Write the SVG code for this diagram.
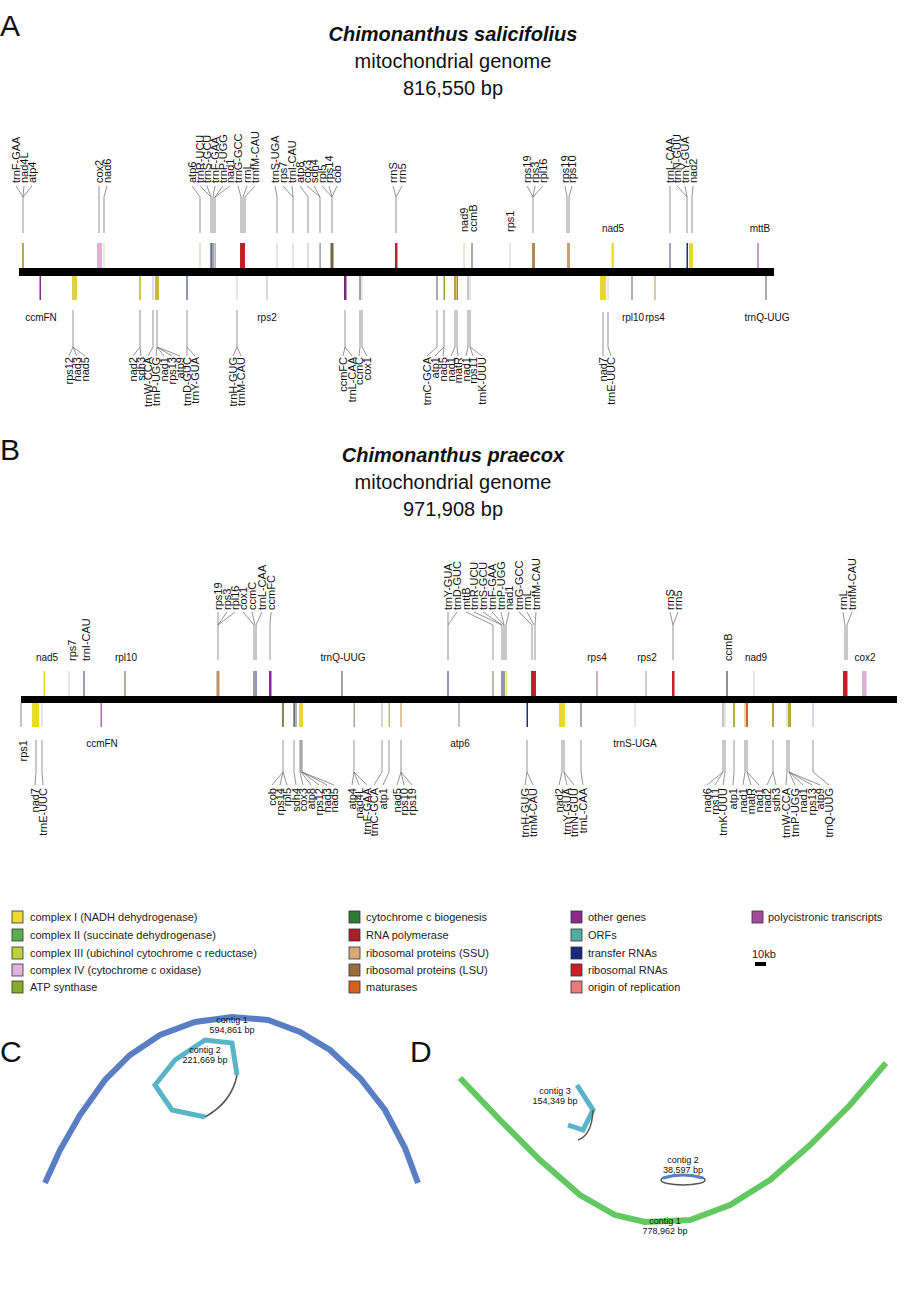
<svg xmlns="http://www.w3.org/2000/svg" width="907" height="1298" viewBox="0 0 907 1298">
<style>
text{font-family:"Liberation Sans",Arial,sans-serif;fill:#111}
.v{font-size:11px}
.vb{font-size:11px;text-anchor:end}
.h{font-size:10px;text-anchor:middle}
.ttl{font-size:20px;text-anchor:middle}
.pl{font-size:30px}
.lg{font-size:11px;fill:#222}
.ct{font-size:9px;text-anchor:middle}
.c{stroke:#666;stroke-width:0.7;fill:none}
.bar{fill:#000}
.lb{stroke:#333;stroke-width:0.8}
</style>
<rect width="907" height="1298" fill="#fff"/>

<!-- ================= PANEL A ================= -->
<g id="panelA-title">
<text class="pl" x="0" y="36">A</text>
<text class="ttl" x="453" y="41" font-weight="bold" font-style="italic">Chimonanthus salicifolius</text>
<text class="ttl" x="453" y="68">mitochondrial genome</text>
<text class="ttl" x="453" y="95">816,550 bp</text>
</g>
<rect id="barA" class="bar" x="19" y="268" width="755" height="8"/>

<g id="connectorsA" class="c">
<path d="M16,186L23,197M24,186L23,197M32,186L23,197M23,197V233"/>
<path d="M99,186L99,197M107,186L104,197M99,197V233M104,197V233"/>
<path d="M192,186L200,197M200,186L211,197M207,186L211,197M215,186L213,197M223,186L215,197M230,186L215,197M200,197V233M211,197V233M213,197V233M215,197V233"/>
<path d="M238,186L241,197M247,186L243,197M255,186L245,197M241,197V233M243,197V233M245,197V233"/>
<path d="M275,186L277,197M277,197V233M283,186L293,197M292,186L293,197M293,197V233"/>
<path d="M300,186L308,197M307,186L320,197M314,186L320,197M322,186L332,197M329,186L332,197M337,186L332,197M308,197V233M320,197V233M332,197V233"/>
<path d="M393,186L396,197M402,186L396,197M396,197V233"/>
<path d="M527,186L533,197M535,186L533,197M543,186L533,197M533,197V233"/>
<path d="M565,186L567,197M572,186L569,197M567,197V233M569,197V233"/>
<path d="M670,186L670,197M677,186L687,197M685,186L687,197M693,186L692,197M670,197V233M687,197V233M692,197V233"/>
<path d="M73,310V347L69,356M73,347L77,356M73,347L85,356"/>
<path d="M140,310V347L133,356M140,347L141,356M153,310V347L148,356M157,310V347L156,356M157,347L164,356M157,347L172,356M157,347L180,356"/>
<path d="M187,310V347L187,356M187,347L195,356"/>
<path d="M237,310V347L233,356M237,347L241,356"/>
<path d="M345,310V347L343,356M345,347L352,356M360,310V347L359,356M362,310V347L367,356"/>
<path d="M437,310V347L427,356M444,310V347L435,356M444,347L443,356M455,310V347L451,356M457,310V347L458,356M468,310V347L466,356M470,310V347L473,356M470,347L482,356"/>
<path d="M603,312V347L603,356M608,312V347L611,356"/>
</g>

<g id="genesA-top">
<rect x="22" y="243" width="2" height="25" fill="#b8a848"/>
<rect x="97" y="243" width="5" height="25" fill="#dfb0d5"/>
<rect x="103.5" y="243" width="1" height="25" fill="#ddd6a8"/>
<rect x="199.5" y="243" width="1" height="25" fill="#c8c8b0"/>
<rect x="210.5" y="243" width="1.2" height="25" fill="#1f2d7a"/>
<rect x="212.5" y="243" width="1" height="25" fill="#444"/>
<rect x="214.5" y="243" width="1.2" height="25" fill="#999"/>
<rect x="240" y="243" width="5" height="25" fill="#c0202a"/>
<rect x="276.5" y="243" width="1" height="25" fill="#ccc"/>
<rect x="292.5" y="243" width="1" height="25" fill="#ccc"/>
<rect x="307.5" y="243" width="1" height="25" fill="#bbb"/>
<rect x="319.5" y="243" width="1.2" height="25" fill="#888"/>
<rect x="330.5" y="243" width="3" height="25" fill="#6e6a40"/>
<rect x="395" y="243" width="2.5" height="25" fill="#c0202a"/>
<rect x="463.5" y="243" width="1" height="25" fill="#d8d0b0"/>
<rect x="471.5" y="243" width="1" height="25" fill="#555"/>
<rect x="509.5" y="243" width="1" height="25" fill="#ccc"/>
<rect x="532" y="243" width="3" height="25" fill="#b08850"/>
<rect x="567" y="243" width="3" height="25" fill="#c8a070"/>
<rect x="611.5" y="243" width="2.5" height="25" fill="#e8dc40"/>
<rect x="669.5" y="243" width="1" height="25" fill="#3a4a8a"/>
<rect x="686.5" y="243" width="1.5" height="25" fill="#1f2d7a"/>
<rect x="689" y="243" width="4" height="25" fill="#e8d830"/>
<rect x="757.5" y="243" width="1" height="25" fill="#8a3a8a"/>
</g>
<g id="genesA-bottom">
<rect x="39.5" y="276" width="1.5" height="24" fill="#8a2a88"/>
<rect x="72" y="276" width="5" height="24" fill="#e0d050"/>
<rect x="139" y="276" width="2" height="24" fill="#c8cc50"/>
<rect x="152.5" y="276" width="1" height="24" fill="#a8c0d8"/>
<rect x="155" y="276" width="4" height="24" fill="#c8b840"/>
<rect x="186.5" y="276" width="1" height="24" fill="#1f2d7a"/>
<rect x="236.5" y="276" width="1" height="24" fill="#c8d0e0"/>
<rect x="266.5" y="276" width="1" height="24" fill="#bbb"/>
<rect x="344" y="276" width="2.5" height="24" fill="#7a2a70"/>
<rect x="359.5" y="276" width="1" height="24" fill="#444"/>
<rect x="361.5" y="276" width="1" height="24" fill="#e0c8d8"/>
<rect x="436.5" y="276" width="1" height="24" fill="#556"/>
<rect x="443.5" y="276" width="1.5" height="24" fill="#a0a040"/>
<rect x="454" y="276" width="2" height="24" fill="#c0a040"/>
<rect x="456.5" y="276" width="1.5" height="24" fill="#d07030"/>
<rect x="467.5" y="276" width="1" height="24" fill="#8890b0"/>
<rect x="469.5" y="276" width="1" height="24" fill="#ccc"/>
<rect x="600" y="276" width="6" height="24" fill="#e8d830"/>
<rect x="607.5" y="276" width="1" height="24" fill="#ccc"/>
<rect x="631.5" y="276" width="1" height="24" fill="#666"/>
<rect x="654.5" y="276" width="1" height="24" fill="#c09060"/>
<rect x="765.5" y="276" width="1" height="24" fill="#556"/>
</g>

<g id="labelsA-top">
<text class="v" transform="translate(20,183) rotate(-90)">trnF-GAA</text>
<text class="v" transform="translate(28,183) rotate(-90)">nad4L</text>
<text class="v" transform="translate(36,183) rotate(-90)">atp4</text>
<text class="v" transform="translate(103,183) rotate(-90)">cox2</text>
<text class="v" transform="translate(111,183) rotate(-90)">nad6</text>
<text class="v" transform="translate(196,183) rotate(-90)">atp6</text>
<text class="v" transform="translate(204,183) rotate(-90)">trnR-UCU</text>
<text class="v" transform="translate(211,183) rotate(-90)">trnS-GCU</text>
<text class="v" transform="translate(219,183) rotate(-90)">trnF-GAA</text>
<text class="v" transform="translate(227,183) rotate(-90)">trnP-UGG</text>
<text class="v" transform="translate(234,183) rotate(-90)">nad1</text>
<text class="v" transform="translate(242,183) rotate(-90)">trnG-GCC</text>
<text class="v" transform="translate(251,183) rotate(-90)">rrnL</text>
<text class="v" transform="translate(259,183) rotate(-90)">trnfM-CAU</text>
<text class="v" transform="translate(279,183) rotate(-90)">trnS-UGA</text>
<text class="v" transform="translate(287,183) rotate(-90)">rps7</text>
<text class="v" transform="translate(296,183) rotate(-90)">trnI-CAU</text>
<text class="v" transform="translate(304,183) rotate(-90)">atp8</text>
<text class="v" transform="translate(311,183) rotate(-90)">cox3</text>
<text class="v" transform="translate(318,183) rotate(-90)">sdh4</text>
<text class="v" transform="translate(326,183) rotate(-90)">rpl5</text>
<text class="v" transform="translate(333,183) rotate(-90)">rps14</text>
<text class="v" transform="translate(341,183) rotate(-90)">cob</text>
<text class="v" transform="translate(397,183) rotate(-90)">rrnS</text>
<text class="v" transform="translate(406,183) rotate(-90)">rrn5</text>
<text class="v" transform="translate(468,232) rotate(-90)">nad9</text>
<text class="v" transform="translate(477,232) rotate(-90)">ccmB</text>
<text class="v" transform="translate(514,232) rotate(-90)">rps1</text>
<text class="v" transform="translate(531,183) rotate(-90)">rps19</text>
<text class="v" transform="translate(539,183) rotate(-90)">rps3</text>
<text class="v" transform="translate(547,183) rotate(-90)">rpl16</text>
<text class="v" transform="translate(569,183) rotate(-90)">rps19</text>
<text class="v" transform="translate(576,183) rotate(-90)">rps10</text>
<text class="h" x="613" y="232">nad5</text>
<text class="v" transform="translate(674,183) rotate(-90)">trnL-CAA</text>
<text class="v" transform="translate(681,183) rotate(-90)">trnN-GUU</text>
<text class="v" transform="translate(689,183) rotate(-90)">trnY-GUA</text>
<text class="v" transform="translate(697,183) rotate(-90)">nad2</text>
<text class="h" x="760" y="232">mttB</text>
</g>
<g id="labelsA-bottom">
<text class="h" x="41" y="321">ccmFN</text>
<text class="vb" transform="translate(73,357) rotate(-90)">rps12</text>
<text class="vb" transform="translate(81,357) rotate(-90)">nad3</text>
<text class="vb" transform="translate(89,357) rotate(-90)">nad5</text>
<text class="vb" transform="translate(137,357) rotate(-90)">nad2</text>
<text class="vb" transform="translate(145,357) rotate(-90)">sdh3</text>
<text class="vb" transform="translate(152,357) rotate(-90)">trnW-CCA</text>
<text class="vb" transform="translate(160,357) rotate(-90)">trnP-UGG</text>
<text class="vb" transform="translate(168,357) rotate(-90)">nad1</text>
<text class="vb" transform="translate(176,357) rotate(-90)">rps13</text>
<text class="vb" transform="translate(184,357) rotate(-90)">atp9</text>
<text class="vb" transform="translate(191,357) rotate(-90)">trnD-GUC</text>
<text class="vb" transform="translate(199,357) rotate(-90)">trnY-GUA</text>
<text class="vb" transform="translate(237,357) rotate(-90)">trnH-GUG</text>
<text class="vb" transform="translate(245,357) rotate(-90)">trnM-CAU</text>
<text class="h" x="267" y="321">rps2</text>
<text class="vb" transform="translate(347,357) rotate(-90)">ccmFC</text>
<text class="vb" transform="translate(356,357) rotate(-90)">trnL-CAA</text>
<text class="vb" transform="translate(363,357) rotate(-90)">ccmC</text>
<text class="vb" transform="translate(371,357) rotate(-90)">cox1</text>
<text class="vb" transform="translate(431,357) rotate(-90)">trnC-GCA</text>
<text class="vb" transform="translate(439,357) rotate(-90)">atp1</text>
<text class="vb" transform="translate(447,357) rotate(-90)">nad5</text>
<text class="vb" transform="translate(455,357) rotate(-90)">nad1</text>
<text class="vb" transform="translate(462,357) rotate(-90)">matR</text>
<text class="vb" transform="translate(470,357) rotate(-90)">nad1</text>
<text class="vb" transform="translate(477,357) rotate(-90)">rps11</text>
<text class="vb" transform="translate(486,357) rotate(-90)">trnK-UUU</text>
<text class="vb" transform="translate(607,357) rotate(-90)">nad7</text>
<text class="vb" transform="translate(615,357) rotate(-90)">trnE-UUC</text>
<text class="h" x="633" y="321">rpl10</text>
<text class="h" x="655" y="321">rps4</text>
<text class="h" x="767" y="321">trnQ-UUG</text>
</g>

<!-- ================= PANEL B ================= -->
<g id="panelB-title">
<text class="pl" x="0" y="460">B</text>
<text class="ttl" x="453" y="462" font-weight="bold" font-style="italic">Chimonanthus praecox</text>
<text class="ttl" x="453" y="489">mitochondrial genome</text>
<text class="ttl" x="453" y="516">971,908 bp</text>
</g>
<rect id="barB" class="bar" x="21" y="696" width="876" height="7"/>

<g id="connectorsB" class="c">
<path d="M218,612L218,625M227,612L218,625M235,612L218,625M218,625V660"/>
<path d="M243,612L254,625M252,612L255,625M262,612L256,625M271,612L270,625M254,625V660M256,625V660M270,625V660"/>
<path d="M448,612L448,625M457,612L448,625M448,625V660"/>
<path d="M466,612L493,625M474,612L502,625M483,612L502,625M492,612L504,625M501,612L504,625M509,612L506,625M493,625V660M502,625V660M504,625V660M506,625V660"/>
<path d="M519,612L532,625M527,612L534,625M536,612L535,625M532,625V660M535,625V660"/>
<path d="M670,612L673,625M678,612L673,625M673,625V660"/>
<path d="M843,612L845,625M852,612L847,625M845,625V660M847,625V660"/>
<path d="M36,740V772L35,785M42,740V772L43,785"/>
<path d="M283,740V772L272,785M283,772L280,785M283,772L287,785"/>
<path d="M294,740V772L296,785M300,740V772L303,785M301,740V772L311,785M302,740V772L319,785M302,772L327,785M302,772L334,785"/>
<path d="M354,740V772L352,785M354,772L359,785M354,772L367,785"/>
<path d="M382,740V772L374,785M389,740V772L383,785"/>
<path d="M401,740V772L397,785M401,772L404,785M401,772L412,785"/>
<path d="M527,740V772L525,785M527,772L533,785"/>
<path d="M562,740V772L559,785M564,740V772L567,785M564,772L574,785M581,740V772L583,785"/>
<path d="M723,740V772L707,785M723,772L715,785M725,740V772L723,785M734,740V772L733,785M745,740V772L743,785M747,740V772L751,785M747,772L759,785M773,740V772L767,785M773,772L776,785M787,740V772L786,785M789,740V772L795,785M789,772L803,785M789,772L812,785M789,772L820,785M813,740V772L829,785"/>
</g>

<g id="genesB-top">
<rect x="43.5" y="671" width="1.5" height="25" fill="#e8d830"/>
<rect x="68.5" y="671" width="1" height="25" fill="#ccc"/>
<rect x="83.5" y="671" width="1" height="25" fill="#2a3a80"/>
<rect x="124.5" y="671" width="1" height="25" fill="#6a5a40"/>
<rect x="216.5" y="671" width="3" height="25" fill="#c09060"/>
<rect x="253.5" y="671" width="1" height="25" fill="#444"/>
<rect x="255.5" y="671" width="1" height="25" fill="#1f2d7a"/>
<rect x="269" y="671" width="2.5" height="25" fill="#8a2a88"/>
<rect x="341.5" y="671" width="1" height="25" fill="#446"/>
<rect x="447.5" y="671" width="1" height="25" fill="#1f2d7a"/>
<rect x="492.5" y="671" width="1" height="25" fill="#776"/>
<rect x="501.5" y="671" width="1" height="25" fill="#1f2d7a"/>
<rect x="503.5" y="671" width="1" height="25" fill="#333"/>
<rect x="505.5" y="671" width="1.5" height="25" fill="#e8e090"/>
<rect x="531" y="671" width="5" height="25" fill="#c0202a"/>
<rect x="596.5" y="671" width="1" height="25" fill="#8a7a6a"/>
<rect x="645.5" y="671" width="1" height="25" fill="#999"/>
<rect x="672" y="671" width="2.5" height="25" fill="#c0202a"/>
<rect x="726.5" y="671" width="1" height="25" fill="#222"/>
<rect x="753.5" y="671" width="1" height="25" fill="#ccc"/>
<rect x="843" y="671" width="4.5" height="25" fill="#c0202a"/>
<rect x="862" y="671" width="4.5" height="25" fill="#dfb0d5"/>
</g>
<g id="genesB-bottom">
<rect x="20.5" y="703" width="1" height="24" fill="#888"/>
<rect x="32" y="703" width="7" height="24" fill="#e8d830"/>
<rect x="41.5" y="703" width="1" height="24" fill="#ccc"/>
<rect x="100.5" y="703" width="1.5" height="24" fill="#b070b0"/>
<rect x="282" y="703" width="2" height="24" fill="#8a8a50"/>
<rect x="293.5" y="703" width="1.2" height="24" fill="#333"/>
<rect x="295.5" y="703" width="1" height="24" fill="#666"/>
<rect x="299" y="703" width="4" height="24" fill="#e8d830"/>
<rect x="353.5" y="703" width="1.5" height="24" fill="#aaa890"/>
<rect x="381.5" y="703" width="1" height="24" fill="#aaa"/>
<rect x="388.5" y="703" width="1.5" height="24" fill="#b8c840"/>
<rect x="400" y="703" width="2" height="24" fill="#e0c8a0"/>
<rect x="458.5" y="703" width="1" height="24" fill="#888"/>
<rect x="526.5" y="703" width="1.5" height="24" fill="#1f2d7a"/>
<rect x="559" y="703" width="6" height="24" fill="#e8d830"/>
<rect x="580.5" y="703" width="1" height="24" fill="#556"/>
<rect x="634.5" y="703" width="1" height="24" fill="#ccd"/>
<rect x="722.5" y="703" width="1" height="24" fill="#888"/>
<rect x="724.5" y="703" width="1" height="24" fill="#ccc"/>
<rect x="733" y="703" width="2" height="24" fill="#b8b040"/>
<rect x="744.5" y="703" width="1" height="24" fill="#c8b040"/>
<rect x="746" y="703" width="2" height="24" fill="#c06830"/>
<rect x="772" y="703" width="2" height="24" fill="#b8a830"/>
<rect x="786.5" y="703" width="1" height="24" fill="#ccc"/>
<rect x="788" y="703" width="3" height="24" fill="#b8a840"/>
<rect x="812.5" y="703" width="1" height="24" fill="#a8b8d8"/>
</g>

<g id="labelsB-top">
<text class="h" x="47" y="661">nad5</text>
<text class="v" transform="translate(76,661) rotate(-90)">rps7</text>
<text class="v" transform="translate(90,661) rotate(-90)">trnI-CAU</text>
<text class="h" x="126" y="661">rpl10</text>
<text class="v" transform="translate(222,610) rotate(-90)">rps19</text>
<text class="v" transform="translate(231,610) rotate(-90)">rps3</text>
<text class="v" transform="translate(239,610) rotate(-90)">rpl16</text>
<text class="v" transform="translate(247,610) rotate(-90)">cox1</text>
<text class="v" transform="translate(256,610) rotate(-90)">ccmC</text>
<text class="v" transform="translate(266,610) rotate(-90)">trnL-CAA</text>
<text class="v" transform="translate(275,610) rotate(-90)">ccmFC</text>
<text class="h" x="343" y="661">trnQ-UUG</text>
<text class="v" transform="translate(452,610) rotate(-90)">trnY-GUA</text>
<text class="v" transform="translate(461,610) rotate(-90)">trnD-GUC</text>
<text class="v" transform="translate(470,610) rotate(-90)">mttB</text>
<text class="v" transform="translate(478,610) rotate(-90)">trnR-UCU</text>
<text class="v" transform="translate(487,610) rotate(-90)">trnS-GCU</text>
<text class="v" transform="translate(496,610) rotate(-90)">trnF-GAA</text>
<text class="v" transform="translate(505,610) rotate(-90)">trnP-UGG</text>
<text class="v" transform="translate(513,610) rotate(-90)">nad1</text>
<text class="v" transform="translate(523,610) rotate(-90)">trnG-GCC</text>
<text class="v" transform="translate(531,610) rotate(-90)">rrnL</text>
<text class="v" transform="translate(540,610) rotate(-90)">trnfM-CAU</text>
<text class="h" x="597" y="661">rps4</text>
<text class="h" x="647" y="661">rps2</text>
<text class="v" transform="translate(674,610) rotate(-90)">rrnS</text>
<text class="v" transform="translate(682,610) rotate(-90)">rrn5</text>
<text class="v" transform="translate(732,661) rotate(-90)">ccmB</text>
<text class="h" x="756" y="661">nad9</text>
<text class="v" transform="translate(847,610) rotate(-90)">rrnL</text>
<text class="v" transform="translate(856,610) rotate(-90)">trnfM-CAU</text>
<text class="h" x="865" y="661">cox2</text>
</g>
<g id="labelsB-bottom">
<text class="vb" transform="translate(27,740) rotate(-90)">rps1</text>
<text class="vb" transform="translate(39,788) rotate(-90)">nad7</text>
<text class="vb" transform="translate(47,788) rotate(-90)">trnE-UUC</text>
<text class="h" x="102" y="747">ccmFN</text>
<text class="vb" transform="translate(276,788) rotate(-90)">cob</text>
<text class="vb" transform="translate(284,788) rotate(-90)">rps14</text>
<text class="vb" transform="translate(291,788) rotate(-90)">rpl5</text>
<text class="vb" transform="translate(300,788) rotate(-90)">sdh4</text>
<text class="vb" transform="translate(307,788) rotate(-90)">cox3</text>
<text class="vb" transform="translate(315,788) rotate(-90)">atp8</text>
<text class="vb" transform="translate(323,788) rotate(-90)">rps12</text>
<text class="vb" transform="translate(331,788) rotate(-90)">nad3</text>
<text class="vb" transform="translate(338,788) rotate(-90)">nad5</text>
<text class="vb" transform="translate(356,788) rotate(-90)">atp4</text>
<text class="vb" transform="translate(363,788) rotate(-90)">nad4L</text>
<text class="vb" transform="translate(371,788) rotate(-90)">trnF-GAA</text>
<text class="vb" transform="translate(378,788) rotate(-90)">trnC-GCA</text>
<text class="vb" transform="translate(387,788) rotate(-90)">atp1</text>
<text class="vb" transform="translate(401,788) rotate(-90)">nad5</text>
<text class="vb" transform="translate(408,788) rotate(-90)">rps10</text>
<text class="vb" transform="translate(416,788) rotate(-90)">rps19</text>
<text class="h" x="460" y="747">atp6</text>
<text class="vb" transform="translate(529,788) rotate(-90)">trnH-GUG</text>
<text class="vb" transform="translate(537,788) rotate(-90)">trnM-CAU</text>
<text class="vb" transform="translate(563,788) rotate(-90)">nad2</text>
<text class="vb" transform="translate(571,788) rotate(-90)">trnY-GUA</text>
<text class="vb" transform="translate(578,788) rotate(-90)">trnN-GUU</text>
<text class="vb" transform="translate(587,788) rotate(-90)">trnL-CAA</text>
<text class="h" x="635" y="747">trnS-UGA</text>
<text class="vb" transform="translate(711,788) rotate(-90)">nad6</text>
<text class="vb" transform="translate(719,788) rotate(-90)">rps11</text>
<text class="vb" transform="translate(727,788) rotate(-90)">trnK-UUU</text>
<text class="vb" transform="translate(737,788) rotate(-90)">atp1</text>
<text class="vb" transform="translate(747,788) rotate(-90)">nad1</text>
<text class="vb" transform="translate(755,788) rotate(-90)">matR</text>
<text class="vb" transform="translate(763,788) rotate(-90)">nad1</text>
<text class="vb" transform="translate(771,788) rotate(-90)">nad2</text>
<text class="vb" transform="translate(780,788) rotate(-90)">sdh3</text>
<text class="vb" transform="translate(790,788) rotate(-90)">trnW-CCA</text>
<text class="vb" transform="translate(799,788) rotate(-90)">trnP-UGG</text>
<text class="vb" transform="translate(807,788) rotate(-90)">nad1</text>
<text class="vb" transform="translate(816,788) rotate(-90)">rps13</text>
<text class="vb" transform="translate(824,788) rotate(-90)">atp9</text>
<text class="vb" transform="translate(833,788) rotate(-90)">trnQ-UUG</text>
</g>

<!-- ================= LEGEND ================= -->
<g id="legend">
<rect class="lb" x="12" y="911" width="11" height="12" fill="#ecd932"/>
<text class="lg" x="30" y="921">complex I (NADH dehydrogenase)</text>
<rect class="lb" x="12" y="929" width="11" height="12" fill="#58b04c"/>
<text class="lg" x="30" y="939">complex II (succinate dehydrogenase)</text>
<rect class="lb" x="12" y="947" width="11" height="12" fill="#bcd040"/>
<text class="lg" x="30" y="957">complex III (ubichinol cytochrome c reductase)</text>
<rect class="lb" x="12" y="964" width="11" height="12" fill="#e0b4d8"/>
<text class="lg" x="30" y="974">complex IV (cytochrome c oxidase)</text>
<rect class="lb" x="12" y="981" width="11" height="12" fill="#8aaa2c"/>
<text class="lg" x="30" y="991">ATP synthase</text>
<rect class="lb" x="349" y="911" width="11" height="12" fill="#2e7a36"/>
<text class="lg" x="366" y="921">cytochrome c biogenesis</text>
<rect class="lb" x="349" y="929" width="11" height="12" fill="#a82026"/>
<text class="lg" x="366" y="939">RNA polymerase</text>
<rect class="lb" x="349" y="947" width="11" height="12" fill="#d8a878"/>
<text class="lg" x="366" y="957">ribosomal proteins (SSU)</text>
<rect class="lb" x="349" y="964" width="11" height="12" fill="#9a6e3c"/>
<text class="lg" x="366" y="974">ribosomal proteins (LSU)</text>
<rect class="lb" x="349" y="981" width="11" height="12" fill="#d8601e"/>
<text class="lg" x="366" y="991">maturases</text>
<rect class="lb" x="571" y="911" width="11" height="12" fill="#8c2a8a"/>
<text class="lg" x="588" y="921">other genes</text>
<rect class="lb" x="571" y="929" width="11" height="12" fill="#4eaea4"/>
<text class="lg" x="588" y="939">ORFs</text>
<rect class="lb" x="571" y="947" width="11" height="12" fill="#1a2a78"/>
<text class="lg" x="588" y="957">transfer RNAs</text>
<rect class="lb" x="571" y="964" width="11" height="12" fill="#cc1e26"/>
<text class="lg" x="588" y="974">ribosomal RNAs</text>
<rect class="lb" x="571" y="981" width="11" height="12" fill="#e87a7a"/>
<text class="lg" x="588" y="991">origin of replication</text>
<rect class="lb" x="752" y="911" width="11" height="12" fill="#a24a9c"/>
<text class="lg" x="768" y="921">polycistronic transcripts</text>
<text class="lg" x="752" y="958">10kb</text>
<rect x="755" y="962" width="11" height="4" fill="#000"/>
</g>

<!-- ================= PANEL C ================= -->
<g id="panelC">
<text class="pl" x="0" y="1062">C</text>
<g id="C-contig1">
<polyline points="45,1183 60,1150 80,1115 105,1080 130,1055 160,1035 195,1022 232,1017 268,1020 300,1032 330,1050 360,1078 385,1110 405,1148 418,1183" fill="none" stroke="#5a7ec4" stroke-width="6"/>
<text class="ct" x="232" y="1023">contig 1</text>
<text class="ct" x="232" y="1033">594,861 bp</text>
</g>
<g id="C-contig2">
<polyline points="237,1075 232,1043 205,1040 175,1060 155,1085 172,1110 205,1117" fill="none" stroke="#5ab4c8" stroke-width="5"/>
<path d="M205,1117Q232,1102 237,1075" fill="none" stroke="#555" stroke-width="1.5"/>
<text class="ct" x="205" y="1053">contig 2</text>
<text class="ct" x="205" y="1063">221,669 bp</text>
</g>
</g>

<!-- ================= PANEL D ================= -->
<g id="panelD">
<text class="pl" x="410" y="1062">D</text>
<g id="D-contig1">
<polyline points="460,1078 500,1120 540,1160 580,1195 615,1215 645,1222 690,1220 730,1205 770,1180 810,1145 850,1105 886,1063" fill="none" stroke="#63c862" stroke-width="6"/>
<text class="ct" x="665" y="1224">contig 1</text>
<text class="ct" x="665" y="1234">778,962 bp</text>
</g>
<g id="D-contig3">
<polyline points="577,1085 593,1110 583,1130 568,1125" fill="none" stroke="#5ab4c8" stroke-width="5"/>
<path d="M593,1110Q592,1135 578,1140" fill="none" stroke="#555" stroke-width="1.5"/>
<text class="ct" x="555" y="1094">contig 3</text>
<text class="ct" x="555" y="1104">154,349 bp</text>
</g>
<g id="D-contig2">
<ellipse cx="683" cy="1180" rx="22" ry="5" fill="none" stroke="#555" stroke-width="1.5"/>
<path d="M663,1178Q683,1172 703,1178" fill="none" stroke="#5a7ec4" stroke-width="3"/>
<text class="ct" x="683" y="1163">contig 2</text>
<text class="ct" x="683" y="1173">38,597 bp</text>
</g>
</g>
</svg>
